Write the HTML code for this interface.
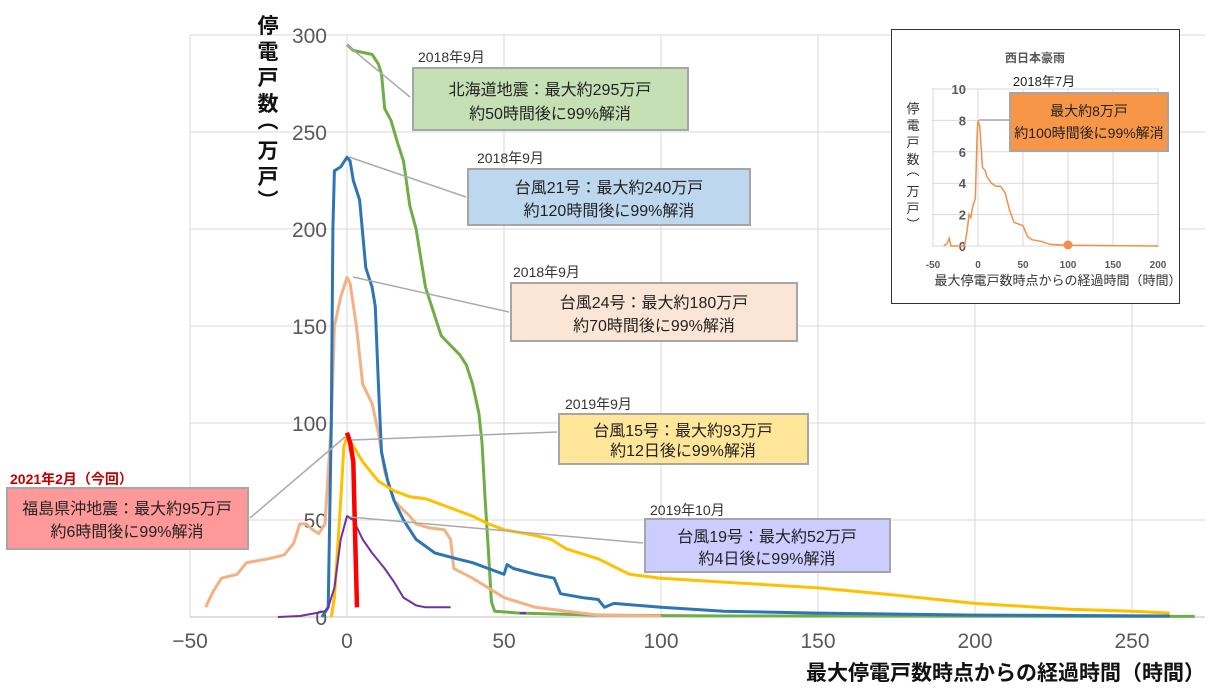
<!DOCTYPE html>
<html><head><meta charset="utf-8"><style>
body{margin:0;background:#fff;}
svg{display:block;font-family:"Liberation Sans","Noto Sans CJK JP",sans-serif;}
</style></head><body>
<svg id="s" width="1217" height="692" viewBox="0 0 1217 692" xmlns="http://www.w3.org/2000/svg">
<g id="grid" stroke="#d9d9d9" stroke-width="1"></g>
<g id="ticks" fill="#595959" font-size="21"></g>
<g id="series" fill="none" stroke-linejoin="round"></g>
<g stroke="#aaaaaa" stroke-width="1.5">
<line x1="410" y1="97" x2="347" y2="45"/>
<line x1="466" y1="197" x2="349" y2="157"/>
<line x1="509" y1="312" x2="353" y2="277"/>
<line x1="557" y1="432" x2="352" y2="440"/>
<line x1="643" y1="543" x2="350" y2="517"/>
<line x1="250" y1="518" x2="345" y2="437"/>
</g>
<g font-size="14" fill="#333">
<text x="418" y="62">2018年9月</text>
<text x="477" y="163">2018年9月</text>
<text x="513" y="277">2018年9月</text>
<text x="565" y="409">2019年9月</text>
<text x="650" y="515">2019年10月</text>
</g>
<text x="10" y="484" font-size="14" font-weight="bold" fill="#c00000">2021年2月（今回）</text>
<g stroke="#a6a6a6" stroke-width="2">
<rect x="413" y="68" width="275" height="62" fill="#c5e0b4"/>
<rect x="468" y="169" width="282" height="56" fill="#bdd7ee"/>
<rect x="511" y="283" width="286" height="58" fill="#fbe5d6"/>
<rect x="559" y="414" width="249" height="50" fill="#ffe699"/>
<rect x="645" y="519" width="245" height="53" fill="#ccccff"/>
<rect x="7" y="488" width="241" height="61" fill="#ff9999"/>
</g>
<g font-size="16" fill="#222" text-anchor="middle">
<text x="550" y="95">北海道地震：最大約295万戸</text><text x="550" y="119">約50時間後に99%解消</text>
<text x="609" y="193">台風21号：最大約240万戸</text><text x="609" y="216">約120時間後に99%解消</text>
<text x="654" y="308">台風24号：最大約180万戸</text><text x="654" y="331">約70時間後に99%解消</text>
<text x="683" y="436">台風15号：最大約93万戸</text><text x="683" y="456">約12日後に99%解消</text>
<text x="767" y="542">台風19号：最大約52万戸</text><text x="767" y="564">約4日後に99%解消</text>
<text x="127" y="514">福島県沖地震：最大約95万戸</text><text x="127" y="537">約6時間後に99%解消</text>
</g>
<g font-size="21" font-weight="bold" fill="#111" text-anchor="middle">
<text x="268" y="33">停</text><text x="268" y="59">電</text><text x="268" y="85">戸</text><text x="268" y="111">数</text>
<text x="268" y="128">︵</text><text x="268" y="158">万</text><text x="268" y="184">戸</text>
<text x="268" y="208">︶</text>
</g>
<text x="1205" y="680" font-size="21" font-weight="bold" fill="#111" text-anchor="end">最大停電戸数時点からの経過時間（時間）</text>
<!-- inset -->
<rect x="891.5" y="29.5" width="288" height="274" fill="#fff" stroke="#333" stroke-width="1"/>
<g id="igrid" stroke="#d9d9d9" stroke-width="1"></g>
<g id="iticks" fill="#595959" font-size="13"></g>
<text x="1035" y="62" font-size="12" font-weight="bold" fill="#595959" text-anchor="middle">西日本豪雨</text>
<text x="1044" y="86" font-size="13" fill="#222" text-anchor="middle">2018年7月</text>
<line x1="979" y1="120" x2="1010" y2="120" stroke="#aaa" stroke-width="1.5"/>
<g id="iseries" fill="none"></g>
<circle cx="1068" cy="245" r="4.5" fill="#f0904a"/>
<rect x="1010" y="93" width="158" height="58" fill="#f79646" stroke="#a6a6a6" stroke-width="2"/>
<text x="1089" y="116" font-size="14" fill="#222" text-anchor="middle">最大約8万戸</text>
<text x="1089" y="138" font-size="14" fill="#222" text-anchor="middle">約100時間後に99%解消</text>
<g font-size="13" fill="#333" text-anchor="middle">
<text x="913" y="113">停</text><text x="913" y="130">電</text><text x="913" y="147">戸</text><text x="913" y="164">数</text>
<text x="913" y="175">︵</text><text x="913" y="196">万</text><text x="913" y="213">戸</text><text x="913" y="229">︶</text>
</g>
<text x="1058" y="285" font-size="13" fill="#333" text-anchor="middle">最大停電戸数時点からの経過時間（時間）</text>
</svg>
<script>
var NS="http://www.w3.org/2000/svg";
function el(p,t,a,txt){var e=document.createElementNS(NS,t);for(var k in a)e.setAttribute(k,a[k]);if(txt!=null)e.textContent=txt;document.getElementById(p).appendChild(e);return e;}
function X(t){return 347+3.14*t;} function Y(v){return 617-1.94*v;}
for(var v=50;v<=300;v+=50)el("grid","line",{x1:190,x2:1205,y1:Y(v),y2:Y(v)});
for(var t=-50;t<=250;t+=50)el("grid","line",{x1:X(t),x2:X(t),y1:35,y2:617});
el("grid","line",{x1:190,x2:1205,y1:617,y2:617,stroke:"#bfbfbf"});
for(var v=0;v<=300;v+=50)el("ticks","text",{x:327,y:Y(v)+8,"text-anchor":"end"},v);
for(var t=-50;t<=250;t+=50)el("ticks","text",{x:X(t),y:648,"text-anchor":"middle"},t<0?"−50":t);
function path(g,d,c,w,fx,fy){var s="";d.forEach(function(p,i){s+=(i?"L":"M")+fx(p[0]).toFixed(1)+" "+fy(p[1]).toFixed(1);});el(g,"path",{d:s,stroke:c,"stroke-width":w});}
var green=[[0,295],[2,292],[8,290],[10,285],[11,280],[12,262],[14,256],[16,245],[18,235],[20,212],[22,200],[25,170],[28,155],[30,145],[33,140],[36,135],[38,130],[40,120],[42,105],[43,90],[44,60],[45,35],[46,8],[47,3],[55,2],[80,1],[120,0.5],[270,0.3]];
var blue=[[-8,0],[-6,5],[-5,100],[-4.5,200],[-4,230],[-2,232],[0,237],[1,235],[2,225],[4,215],[6,180],[8,170],[9,160],[10,120],[11,85],[13,70],[15,60],[18,50],[22,40],[28,33],[35,30],[40,28],[45,25],[50,22],[51,27],[53,25],[60,22],[66,20],[68,12],[75,10],[80,9],[82,5],[85,7],[100,5],[120,3],[150,2],[200,1],[262,0.5]];
var salmon=[[-45,5],[-43,12],[-40,20],[-35,22],[-32,28],[-25,30],[-20,32],[-17,38],[-15,48],[-13,48],[-11,45],[-9,43],[-7,48],[-5,100],[-4,150],[-2,165],[0,175],[1,172],[3,150],[5,120],[8,110],[10,95],[12,75],[15,60],[18,55],[20,52],[22,48],[26,46],[31,45],[33,40],[34,25],[40,20],[45,15],[50,10],[60,5],[70,3],[80,1],[100,0.5]];
var yellow=[[-5,0],[-4,10],[-2,60],[-1,88],[0,93],[2,88],[5,80],[10,70],[15,65],[20,62],[25,61],[30,58],[35,55],[40,52],[45,48],[50,45],[60,42],[65,40],[70,35],[80,30],[90,22],[100,20],[120,18],[150,15],[170,12],[200,7],[230,4],[250,3],[262,2]];
var purple=[[-22,0],[-15,0.5],[-10,2],[-7,3],[-6,5],[-4,15],[-2,40],[0,52],[2,50],[5,40],[8,33],[12,25],[15,18],[18,10],[22,6],[25,5],[33,5]];
path("series",green,"#70ad47",3,X,Y);
path("series",salmon,"#f4b183",3,X,Y);
path("series",blue,"#2e75b6",3,X,Y);
path("series",yellow,"#ffc000",3,X,Y);
path("series",purple,"#7030a0",2,X,Y);
path("series",[[55,2],[57,2]],"#7030a0",2,X,Y);
path("series",[[0,95],[1,90],[2,80],[2.6,40],[3.2,5]],"#ff0000",4.5,X,Y);
function IX(t){return 978+0.9*t;} function IY(v){return 246-15.7*v;}
for(var v=0;v<=10;v+=2)el("igrid","line",{x1:932,x2:1159,y1:IY(v),y2:IY(v)});
for(var t=-50;t<=200;t+=50)el("igrid","line",{x1:IX(t),x2:IX(t),y1:IY(10),y2:246});
for(var v=0;v<=10;v+=2)el("iticks","text",{x:966,y:IY(v)+5,"text-anchor":"end","font-weight":"bold"},v);
for(var t=-50;t<=200;t+=50)el("iticks","text",{x:IX(t),y:268,"text-anchor":"middle","font-weight":"bold","font-size":"10"},t);
var org=[[-38,0],[-34,0.2],[-32,0.5],[-30,0],[-20,0],[-15,0],[-12,1],[-10,2],[-8,1.8],[-6,2.5],[-3,3],[-1,7],[0,8],[2,7.6],[5,5],[8,4.8],[10,4.4],[15,4],[20,3.8],[25,3.8],[30,3.4],[35,2.3],[40,1.5],[45,1.4],[50,1.3],[55,0.6],[60,0.4],[70,0.3],[80,0.1],[100,0.05],[200,0]];
path("iseries",org,"#f0904a",1.5,IX,IY);
</script>
</body></html>
